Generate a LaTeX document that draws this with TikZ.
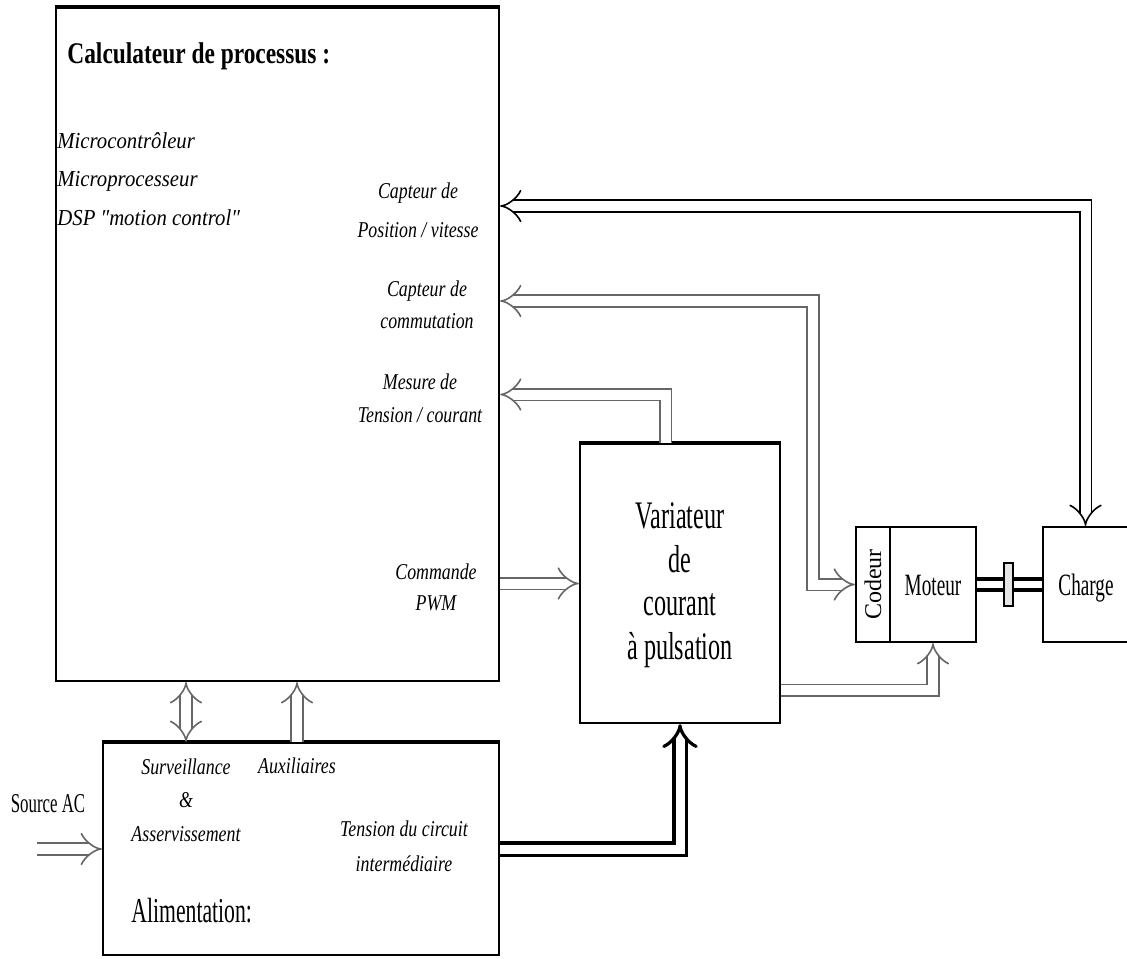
\documentclass[tikz,border=0pt]{standalone}
\usepackage{fontspec}
\setmainfont{Liberation Serif}
\newfontfamily\labfont[FakeStretch=0.79]{Liberation Serif}
\newfontfamily\listfont[FakeStretch=0.91]{Liberation Serif}
\newfontfamily\bigfont[FakeStretch=0.62]{Liberation Serif}
\newfontfamily\headfont[FakeStretch=0.78]{Liberation Serif}
\usetikzlibrary{arrows.meta,positioning,fit,calc}
\tikzset{
box/.style={draw, line width=1.1pt, inner sep=0pt},
lab/.style={align=center, inner sep=0pt,
            font=\labfont\itshape\fontsize{11.3}{16}\selectfont},
big/.style={align=center, inner sep=0pt,
            font=\bigfont\fontsize{15.5}{18}\selectfont},
bus/.style={draw=#1, double, double distance=5pt, line width=0.8pt, -{Implies}},
bus/.default=black,
}

\begin{document}
\begin{tikzpicture}[x=0.5pt,y=-0.5pt]
  \useasboundingbox (0,0) rectangle (1127,958);

  % blocs
  \node[box, fit={(56,8) (499,681)}] (calc) {};
  \node[box, fit={(580,444) (780,723)}] (var) {};
  \node[box, fit={(103,743) (499,955)}] (alim) {};
  \node[box, fit={(856,527) (890,642)}] (cod) {};
  \node[box, fit={(890,527) (976,642)}] (mot) {};
  \node[box, fit={(1043,527) (1128,642)}] (charge) {};
  \foreach \b in {calc,var,alim}
    \draw[line width=2.2pt] (\b.north west) -- (\b.north east);

  % textes
  \node[anchor=base west, inner sep=0pt,
        font=\headfont\bfseries\fontsize{15}{18}\selectfont] (titre) at (67,63)
        {Calculateur de processus :};
  \node[anchor=north west, align=left, inner sep=0pt,
        font=\listfont\itshape\fontsize{11.4}{19.25}\selectfont] (liste) at (57,132)
        {Microcontrôleur\\Microprocesseur\\DSP ″motion control″};
  \node[lab, font=\labfont\itshape\fontsize{11.3}{19.5}\selectfont] (lpos) at (418,210)
        {Capteur de\\Position / vitesse};
  \node[lab] (lcom) at (427,305) {Capteur de\\commutation};
  \node[lab, font=\labfont\itshape\fontsize{11.3}{16.5}\selectfont] (lmes) at (420,398)
        {Mesure de\\Tension / courant};
  \node[lab, font=\labfont\itshape\fontsize{11.3}{15.5}\selectfont] (lpwm) at (436,587)
        {Commande\\PWM};
  \node[lab, font=\labfont\itshape\fontsize{11.3}{16.75}\selectfont] (lsurv) at (186,800)
        {Surveillance\\\&\\Asservissement};
  \node[lab, anchor=base] (laux) at (297,773) {Auxiliaires};
  \node[lab, font=\labfont\itshape\fontsize{11.3}{17.5}\selectfont] (lten) at (404,846)
        {Tension du circuit\\intermédiaire};
  \node[big, anchor=base west, font=\bigfont\fontsize{17.5}{20}\selectfont] (lalim) at (131,922)
        {Alimentation:};
  \node[big, font=\bigfont\fontsize{19.5}{21.75}\selectfont] (lvar) at (680,585)
        {Variateur\\de\\courant\\à pulsation};
  \node[big, anchor=base] (lmot) at (933,595) {Moteur};
  \node[big, anchor=base] (lch) at (1086,595) {Charge};
  \node[rotate=90, inner sep=0pt, font=\fontsize{12}{14}\selectfont] (lcod) at (cod) {Codeur};
  \node[big, anchor=base, font=\bigfont\fontsize{13.6}{16}\selectfont] (lsrc) at (48,812) {Source AC};
  \coordinate (src) at (37,849);

  % liaisons
  \draw[bus, Implies-Implies] ($(calc.east |- lpos)+(0,-4)$) -| (charge.north);
  \draw[bus=black!60, Implies-Implies] ($(calc.east |- lcom)+(0,-4)$)
        -| ($(cod.west)+(-42,0)$) -- (cod.west);
  \draw[bus=black!60] ($(var.north)+(-14.5,0)$) |- ($(calc.east |- lmes)+(0,-3.5)$);
  \draw[bus=black!60] (calc.east |- var.west) -- (var.west);
  \draw[bus=black!60] ($(var.south east)+(0,-34)$) -| (mot.south);
  \draw[bus, line width=1.6pt, double distance=4.5pt] (alim.east) -| (var.south);
  \draw[bus=black!60, Implies-Implies] (lsurv |- calc.south) -- (lsurv |- alim.north);
  \draw[bus=black!60] (laux |- alim.north) -- (laux |- calc.south);
  \draw[bus=black!60] (src) -- (alim.west);

  % arbre et accouplement
  \draw[double, double distance=3.5pt, line width=1.8pt] (mot.east) -- (charge.west);
  \node[draw, line width=1.3pt, fill=black!10, inner sep=0pt,
        fit={(1004,563) (1013,606)}] (accoupl) {};
\end{tikzpicture}
\end{document}
